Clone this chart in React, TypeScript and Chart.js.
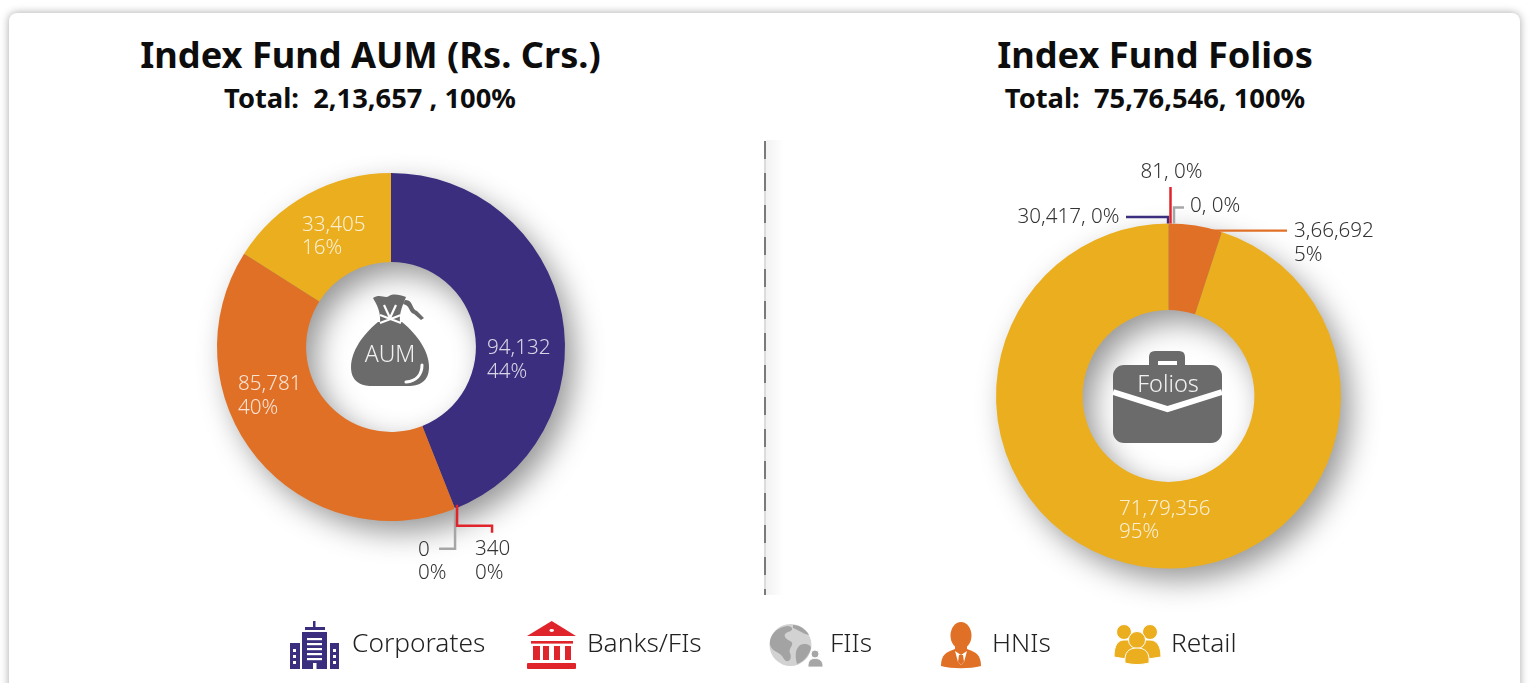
import React, { useEffect, useRef } from "react";
import { Chart, registerables } from "chart.js";

Chart.register(...registerables);

const categories = ["Corporates", "Banks/FIs", "FIIs", "HNIs", "Retail"];
const colors = ["#3b2e7e", "#e0242c", "#a6a6a6", "#e07026", "#eaae1f"];
const aumTitle = "Index Fund AUM (Rs. Crs.)";
const aumSubtitle = "Total:  2,13,657 , 100%";
const folioTitle = "Index Fund Folios";
const folioSubtitle = "Total:  75,76,546, 100%";
const aumValues = ["94,132", "340", "0", "85,781", "33,405"];
const aumShares = [44, 0, 0, 40, 16];
const folioValues = ["30,417", "81", "0", "3,66,692", "71,79,356"];
const folioShares = [0, 0, 0, 5, 95];

const FONT = '"Noto Sans", sans-serif';
const LABEL_SIZE = 20.6;

type Leader = { index: number; points: [number, number][]; width: number };
type Lab = { index: number; lines: string[]; dx: number; dy: number; inner?: boolean; align?: CanvasTextAlign; lh?: number };

const pct = (s: number) => `${s}%`;

const aumLeaders: Leader[] = [
  { index: 2, width: 2.5, points: [[0, -1], [0, 40], [-16, 40]] },
  { index: 1, width: 2.5, points: [[2, -4], [2, 17], [37, 17], [37, 24]] },
];
const aumLabels: Lab[] = [
  { index: 0, inner: true, lines: [aumValues[0], pct(aumShares[0])], dx: 96, dy: 1 },
  { index: 3, inner: true, lines: [aumValues[3], pct(aumShares[3])], dx: -153, dy: 37 },
  { index: 4, inner: true, lines: [aumValues[4], pct(aumShares[4])], dx: -89, dy: -121.5, lh: 22.5 },
  { index: 2, lines: [aumValues[2], pct(aumShares[2])], dx: 27, dy: 203, lh: 23.5 },
  { index: 1, lines: [aumValues[1], pct(aumShares[1])], dx: 84, dy: 202, lh: 24 },
];
const folioLeaders: Leader[] = [
  { index: 2, width: 2.5, points: [[5.5, 0], [5.5, -16], [15.5, -16]] },
  { index: 0, width: 2.4, points: [[-42.5, -6.5], [-0.5, -6.5], [-0.5, 0]] },
  { index: 1, width: 2.5, points: [[2, 0], [2, -36.5]] },
  { index: 3, width: 2.4, points: [[10, 5], [91.5, 5]] },
];
const folioLabels: Lab[] = [
  { index: 1, lines: [`${folioValues[1]}, ${pct(folioShares[1])}`], dx: 3, dy: -224, align: "center" },
  { index: 2, lines: [`${folioValues[2]}, ${pct(folioShares[2])}`], dx: 21.5, dy: -190 },
  { index: 0, lines: [`${folioValues[0]}, ${pct(folioShares[0])}`], dx: -49, dy: -179, align: "right" },
  { index: 3, lines: [folioValues[3], pct(folioShares[3])], dx: 125.5, dy: -165, lh: 24 },
  { index: 4, inner: true, lines: [folioValues[4], pct(folioShares[4])], dx: -49.5, dy: 113, lh: 23 },
];

const ringPlugin = (leaders: Leader[], labels: Lab[]) => ({
  id: "ringDecor",
  beforeDatasetsDraw(chart: any) {
    const arc = chart.getDatasetMeta(0).data[0];
    const { ctx } = chart;
    ctx.save();
    ctx.shadowColor = "rgba(0,0,0,0.42)";
    ctx.shadowBlur = 30;
    ctx.shadowOffsetX = 10;
    ctx.shadowOffsetY = 12;
    ctx.fillStyle = "#888";
    ctx.beginPath();
    ctx.arc(arc.x, arc.y, arc.outerRadius - 1, 0, Math.PI * 2);
    ctx.arc(arc.x, arc.y, arc.innerRadius + 1, 0, Math.PI * 2, true);
    ctx.fill();
    ctx.restore();
  },
  afterDatasetsDraw(chart: any) {
    const meta = chart.getDatasetMeta(0);
    const { ctx } = chart;
    const first = meta.data[0];
    ctx.save();
    for (const l of leaders) {
      const a = meta.data[l.index];
      const mid = (a.startAngle + a.endAngle) / 2;
      const ax = a.x + Math.cos(mid) * a.outerRadius;
      const ay = a.y + Math.sin(mid) * a.outerRadius;
      ctx.strokeStyle = colors[l.index];
      ctx.lineWidth = l.width;
      ctx.beginPath();
      l.points.forEach(([dx, dy], i) => (i ? ctx.lineTo(ax + dx, ay + dy) : ctx.moveTo(ax + dx, ay + dy)));
      ctx.stroke();
    }
    ctx.font = `300 ${LABEL_SIZE}px ${FONT}`;
    ctx.textBaseline = "middle";
    for (const lab of labels) {
      ctx.fillStyle = lab.inner ? "rgba(255,255,255,0.8)" : "#333333";
      ctx.textAlign = lab.align ?? "left";
      lab.lines.forEach((t, i) => ctx.fillText(t, first.x + lab.dx, first.y + lab.dy + i * (lab.lh ?? 24.5)));
    }
    ctx.restore();
  },
});

function Donut({ shares, leaders, labels, style, width, height, pad, cutout }: any) {
  const ref = useRef<HTMLCanvasElement>(null);
  useEffect(() => {
    const chart = new Chart(ref.current!, {
      type: "doughnut",
      data: { labels: categories, datasets: [{ data: shares, backgroundColor: colors, borderWidth: 0 }] },
      options: {
        responsive: false,
        animation: false,
        cutout,
        layout: { padding: { top: pad, bottom: pad } },
        plugins: { legend: { display: false }, tooltip: { enabled: false }, title: { display: false } },
      },
      plugins: [ringPlugin(leaders, labels)],
    } as any);
    return () => chart.destroy();
  }, []);
  return <canvas ref={ref} width={width} height={height} style={{ position: "absolute", ...style }} />;
}

const heading = (cx: number, y: number, size: number, text: string) => (
  <div
    style={{
      position: "absolute", left: cx - 380, width: 760, top: y - 30, height: 60, lineHeight: "60px",
      textAlign: "center", font: `700 ${size}px/60px ${FONT}`, color: "#0d0d0d", whiteSpace: "pre",
    }}
  >
    {text}
  </div>
);

const legendX = [352, 587, 830, 992, 1171];
const ICON = "#6b6b6b";

function Icons() {
  const [cor, red, gry, org, ylw] = colors;
  return (
    <svg width={1530} height={683} style={{ position: "absolute", left: 0, top: 0 }}>
      {/* money bag */}
      <g fill={ICON}>
        <path d="M378 322 C362 335 351 352 351 367 C351 381 360 386 372 386 L408 386 C420 386 429 381 429 367 C429 352 418 335 402 322 Z" />
        <path d="M373 298 C380 293 385 299 389 296 C394 293 400 295 406 297 C403 305 399 312 400 323 L380 323 C381 312 377 305 373 298 Z" />
        <path d="M405 300 C413 299 412 310 417 311 L424 318 L421 320 L414 314 C409 313 410 305 403 304 Z" />
      </g>
      <path d="M380 315 L401 323 M401 315 L380 323 M384 305 L390 318 M396 305 L390 318" stroke="#fff" strokeWidth={2.2} fill="none" />
      <path d="M422 365 C422 375 416 381 406 382" stroke="#fff" strokeWidth={3} fill="none" strokeLinecap="round" />
      <text x={390} y={362} textAnchor="middle" fontFamily={FONT} fontWeight={300} fontSize={23} fill="#f2f2f2">AUM</text>
      {/* briefcase */}
      <path d="M1149 366 L1149 357 Q1149 351 1155 351 L1179 351 Q1185 351 1185 357 L1185 366 L1177 366 L1177 361 L1158 361 L1158 366 Z" fill={ICON} />
      <rect x={1113} y={365} width={109} height={78} rx={11} fill={ICON} />
      <path d="M1113 392 L1167.500 409 L1222 392" stroke="#fff" strokeWidth={6} fill="none" />
      <text x={1168} y={392} textAnchor="middle" fontFamily={FONT} fontWeight={300} fontSize={23.5} fill="#f2f2f2">Folios</text>

      {/* Corporates */}
      <g fill={cor}>
        <rect x={313} y={621} width={2.5} height={8} />
        <rect x={305} y={627} width={20} height={3} />
        <rect x={302} y={632} width={25} height={37} />
        <rect x={290} y={643} width={10} height={26} />
        <rect x={330} y={643} width={9} height={26} />
      </g>
      <g fill="#fff">
        {[638, 643, 648, 653, 658].map((y) => <rect key={y} x={307} y={y} width={15} height={2.2} />)}
        <rect x={313} y={663} width={3.5} height={6} />
        {[649, 655, 661].map((y) => (
          <g key={y}>
            <rect x={293} y={y} width={3} height={3} />
            <rect x={333} y={y} width={3} height={3} />
          </g>
        ))}
      </g>
      {/* Bank */}
      <g fill={red}>
        <path d="M551.700 621 L576 636 L527 636 Z" />
        <rect x={531} y={641} width={42} height={2.6} />
        <rect x={533} y={646} width={7} height={14} />
        <rect x={543} y={646} width={6} height={14} />
        <rect x={554} y={646} width={6} height={14} />
        <rect x={565} y={646} width={6} height={14} />
        <rect x={527} y={663} width={49} height={6} rx={1} />
      </g>
      <ellipse cx={551.700} cy={630.500} rx={2.300} ry={1.400} fill="#fff" />
      {/* Globe */}
      <circle cx={790.500} cy={645} r={21} fill="#d2d2d2" />
      <path d="M770 645 C769 634 778 627 788 626 C794 627 793 631 788 632 C782 634 785 639 790 641 C796 644 788 648 790 653 C793 660 787 664 784 659 C781 652 772 652 770 645 Z" fill="#a3a3a3" />
      <path d="M799 646 C804 642 811 645 811 648 C809 656 803 662 797 664 C795 657 795 650 799 646 Z" fill="#a3a3a3" />
      <path d="M793 625 C799 625 806 629 809 635 C804 634 800 631 793 628 Z" fill="#a3a3a3" />
      <circle cx={815} cy={654} r={4} fill="#a6a6a6" stroke="#fff" strokeWidth={1} />
      <path d="M808 667 C808 660 811 658.500 815 658.500 C819 658.500 823 660 823 667 Z" fill="#a6a6a6" stroke="#fff" strokeWidth={0.8} />
      {/* HNI */}
      <g fill={org}>
        <ellipse cx={961} cy={635.500} rx={10.500} ry={13.500} />
        <rect x={955} y={645} width={12} height={8} />
        <path d="M955 649 L967 649 C976 652 981 655 981 666 C970 669 952 669 941 666 C941 655 946 652 955 649 Z" />
      </g>
      <path d="M955 651 L961 655 L967 651 L964 662 L961 665 L958 662 Z" fill="#fff" />
      <path d="M959 655 L963 655 L964 662 L961 665 L958 662 Z" fill={org} />
      {/* Retail */}
      <g fill={ylw} stroke="#fff" strokeWidth={1}>
        <circle cx={1124} cy={632} r={7.500} />
        <circle cx={1150} cy={632} r={7.500} />
        <path d="M1114 657 C1114 645 1118 640 1124 640 L1150 640 C1156 640 1161 645 1161 657 L1148 659 L1126 659 Z" />
        <circle cx={1137} cy={640} r={8.500} />
        <path d="M1125 663 C1124 652 1129 648 1137 648 C1145 648 1150 652 1149 663 C1141 665 1133 665 1125 663 Z" />
      </g>
    </svg>
  );
}

export default function App() {
  return (
    <div style={{ position: "fixed", inset: 0, overflow: "hidden", background: "#fff" }}>
      <div
        style={{
          position: "absolute", left: 9, top: 13, width: 1511, height: 720, borderRadius: 8,
          background: "#fff", boxShadow: "0 0 9px rgba(0,0,0,0.35)",
        }}
      />
      {heading(370.5, 54, 36.2, aumTitle)}
      {heading(370, 98, 27.3, aumSubtitle)}
      {heading(1155, 54, 36.2, folioTitle)}
      {heading(1155, 98, 27.3, folioSubtitle)}
      <div
        style={{
          position: "absolute", left: 766, top: 140, width: 18, height: 455,
          background: "linear-gradient(to right, rgba(0,0,0,0.05), rgba(0,0,0,0))",
        }}
      />
      <div
        style={{
          position: "absolute", left: 764, top: 141, width: 2, height: 454,
          background: "repeating-linear-gradient(to bottom, #7a7a7a 0 18px, #dcdcdc 18px 32px)",
        }}
      />
      <Donut
        shares={aumShares} leaders={aumLeaders} labels={aumLabels}
        style={{ left: 20, top: 110 }} width={742} height={474} pad={63} cutout="48.8%"
      />
      <Donut
        shares={folioShares} leaders={folioLeaders} labels={folioLabels}
        style={{ left: 818, top: 150 }} width={701} height={492} pad={73.5} cutout="49.8%"
      />
      <Icons />
      {categories.map((c, i) => (
        <div
          key={c}
          style={{
            position: "absolute", left: legendX[i], top: 627, height: 30,
            font: `300 26.3px/30px ${FONT}`, color: "#222", whiteSpace: "pre",
          }}
        >
          {c}
        </div>
      ))}
    </div>
  );
}
